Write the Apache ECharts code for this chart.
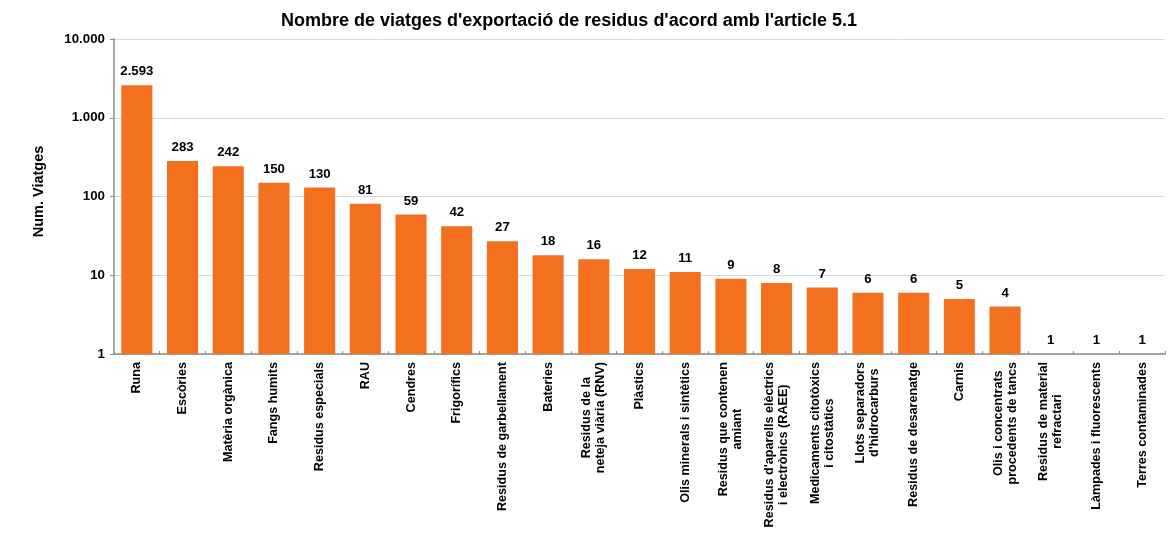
<!DOCTYPE html>
<html>
<head>
<meta charset="utf-8">
<script src="https://cdn.jsdelivr.net/npm/echarts@6/dist/echarts.min.js"></script>
<style>html,body{margin:0;padding:0;background:#fff;}#c{width:1168px;height:538px;}</style>
</head>
<body>
<div id="c"></div>
<script>
const title = "Nombre de viatges d'exportació de residus d'acord amb l'article 5.1";
const yAxisName = "Num. Viatges";
const categories = [
  "Runa", "Escòries", "Matèria orgànica", "Fangs humits", "Residus especials", "RAU",
  "Cendres", "Frigorífics", "Residus de garbellament", "Bateries",
  "Residus de la\nneteja viària (RNV)", "Plàstics", "Olis minerals i sintètics",
  "Residus que contenen\namiant", "Residus d'aparells elèctrics\ni electrònics (RAEE)",
  "Medicaments citotòxics\ni citostàtics", "Llots separadors\nd'hidrocarburs",
  "Residus de desarenatge", "Carnis", "Olis i concentrats\nprocedents de tancs",
  "Residus de material\nrefractari", "Làmpades i fluorescents", "Terres contaminades"
];
const values = [2593, 283, 242, 150, 130, 81, 59, 42, 27, 18, 16, 12, 11, 9, 8, 7, 6, 6, 5, 4, 1, 1, 1];
const yTicks = [1, 10, 100, 1000, 10000];

function fmt(v) {
  return String(Math.round(v)).replace(/\B(?=(\d{3})+(?!\d))/g, '.');
}

const chart = echarts.init(document.getElementById('c'), null, {renderer: 'canvas'});
const FONT = 'Liberation Sans, Arial, sans-serif';
chart.setOption({
  animation: false,
  backgroundColor: '#fff',
  title: {
    text: title, left: 564, top: 7, textAlign: 'center',
    textStyle: {fontFamily: FONT, fontSize: 18, fontWeight: 'bold', color: '#000'}
  },
  grid: {left: 114, right: 3, top: 39, bottom: 184, containLabel: false},
  xAxis: {
    type: 'category', data: categories,
    axisLine: {lineStyle: {color: '#8c8c8c', width: 1.5}},
    axisTick: {show: true, inside: true, length: 3, alignWithLabel: false, lineStyle: {color: '#8c8c8c'}},
    axisLabel: {
      interval: 0, rotate: 90, margin: 8,
      fontFamily: FONT, fontSize: 12.6, fontWeight: 'bold', color: '#000',
      formatter: function (v) { return v.split('\n').map(s => '{c|' + s + '}').join('\n'); },
      rich: {c: {align: 'center', fontFamily: FONT, fontSize: 12.6, fontWeight: 'bold', color: '#000', lineHeight: 14}}
    }
  },
  yAxis: {
    type: 'log', logBase: 10, min: yTicks[0], max: yTicks[yTicks.length - 1],
    name: yAxisName, nameLocation: 'middle', nameGap: 68, nameRotate: 90,
    nameTextStyle: {fontFamily: FONT, fontSize: 14.5, fontWeight: 'bold', color: '#000', padding: [0, 0, 0, 10]},
    axisLine: {show: true, lineStyle: {color: '#8c8c8c', width: 1.5}},
    axisTick: {show: true, length: 4, lineStyle: {color: '#8c8c8c'}},
    splitLine: {show: true, lineStyle: {color: '#d9d9d9', width: 1}},
    axisLabel: {fontFamily: FONT, fontSize: 13.3, fontWeight: 'bold', color: '#000', margin: 9,
      formatter: function (v) { return fmt(v); }}
  },
  series: [{
    type: 'bar', data: values, barWidth: '68%',
    itemStyle: {color: '#F3701E'},
    label: {show: true, position: 'top', distance: 7, fontFamily: FONT, fontSize: 13.2, fontWeight: 'bold', color: '#000',
      formatter: function (p) { return fmt(p.value); }}
  }]
});
</script>
</body>
</html>
